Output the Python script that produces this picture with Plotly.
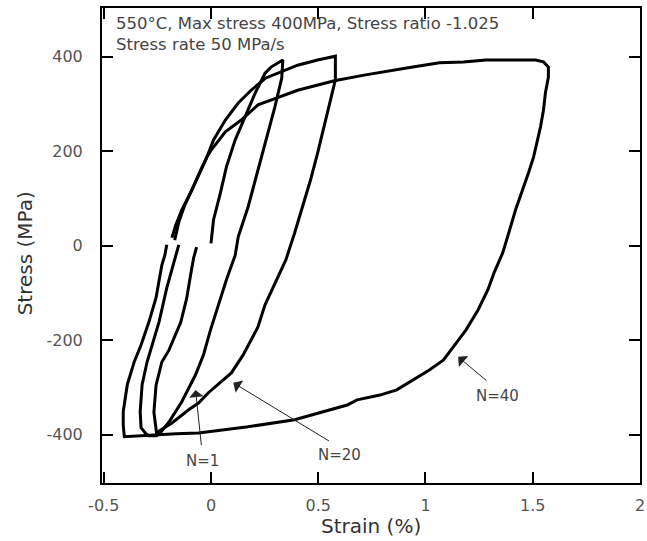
import plotly.graph_objects as go

# Hysteresis loops: strain (%) and stress (MPa) for three cycles
n1_strain = [0.0, 0.012, 0.044, 0.072, 0.113, 0.159, 0.206, 0.252, 0.280, 0.335,
             0.330, 0.298, 0.266, 0.233, 0.206, 0.173, 0.127, 0.113, 0.072, 0.035,
             -0.002, -0.035, -0.072, -0.136, -0.196, -0.233, -0.252,
             -0.266, -0.256, -0.229, -0.196, -0.141, -0.113, -0.095, -0.081, -0.067]
n1_stress = [5, 55, 112, 167, 224, 272, 323, 365, 378, 393,
             355, 294, 239, 188, 139, 82, 19, -20, -72, -125,
             -178, -231, -273, -330, -373, -394, -402,
             -352, -295, -246, -221, -162, -111, -62, -26, -3]

n20_strain = [-0.169, -0.150, -0.122, -0.090, -0.058, -0.025, 0.012, 0.067, 0.127, 0.187,
              0.256, 0.326, 0.404, 0.497, 0.580,
              0.580, 0.557, 0.529, 0.497, 0.464, 0.427, 0.390, 0.349, 0.252, 0.219,
              0.173, 0.150, 0.095, -0.012, -0.058, -0.104, -0.182, -0.242, -0.256,
              -0.289, -0.303, -0.326, -0.330, -0.321, -0.298, -0.275, -0.242, -0.206,
              -0.164, -0.150]
n20_stress = [12, 50, 86, 118, 150, 181, 224, 266, 302, 329,
              355, 368, 382, 393, 401,
              351, 308, 251, 196, 139, 82, 27, -30, -125, -172,
              -210, -231, -269, -311, -333, -347, -375, -392, -402,
              -402, -398, -385, -351, -294, -246, -210, -161, -89,
              -20, 2]

n40_strain = [-0.182, -0.164, -0.136, -0.095, -0.048, -0.021, 0.002, 0.067, 0.141, 0.219,
              0.279, 0.404, 0.575, 0.714, 0.912, 1.065, 1.176, 1.282, 1.513, 1.550, 1.573,
              1.573, 1.559, 1.550, 1.536, 1.504, 1.480, 1.453, 1.420, 1.388, 1.360,
              1.319, 1.291, 1.245, 1.189, 1.143, 1.083, 1.018, 0.945, 0.866, 0.788,
              0.681, 0.635, 0.557, 0.390, 0.173, -0.058, -0.164, -0.229, -0.303, -0.404,
              -0.409, -0.409, -0.390, -0.358, -0.326, -0.289, -0.256, -0.229, -0.215, -0.206]
n40_stress = [17, 44, 76, 112, 160, 186, 203, 241, 266, 298,
              308, 329, 349, 361, 376, 387, 389, 393, 393, 389, 378,
              357, 323, 287, 251, 188, 154, 118, 76, 27, -15,
              -58, -93, -136, -178, -206, -242, -263, -284, -305, -316,
              -326, -337, -347, -368, -383, -396, -398, -400, -402, -404,
              -379, -351, -294, -246, -210, -161, -110, -41, -20, 2]

x_ticks = [-0.5, 0, 0.5, 1, 1.5, 2]
x_tick_text = ["-0.5", "0", "0.5", "1", "1.5", "2"]
y_ticks = [-400, -200, 0, 200, 400]
y_tick_text = ["-400", "-200", "0", "200", "400"]

# Cycle labels: text position, arrow head, arrow tail (strain, stress)
cycle_labels = ["N=1", "N=20", "N=40"]
label_pos = [(-0.039, -455), (0.598, -442), (1.337, -318)]
arrow_head = [(-0.072, -305), (0.104, -290), (1.152, -235)]
arrow_tail = [(-0.044, -425), (0.557, -415), (1.291, -288)]

test_conditions = "550°C, Max stress 400MPa, Stress ratio -1.025<br>Stress rate 50 MPa/s"

FONT = "DejaVu Sans, Arial, sans-serif"
TEXT_GREY = "#454545"

fig = go.Figure()
for sx, sy, name in [(n1_strain, n1_stress, "N=1"),
                     (n20_strain, n20_stress, "N=20"),
                     (n40_strain, n40_stress, "N=40")]:
    fig.add_trace(go.Scatter(x=sx, y=sy, mode="lines", name=name,
                             line=dict(color="black", width=3),
                             showlegend=False))

annotations = []
for txt, (lx, ly), (hx, hy), (tx, ty) in zip(cycle_labels, label_pos, arrow_head, arrow_tail):
    annotations.append(dict(x=lx, y=ly, xref="x", yref="y", text=txt, showarrow=False,
                            font=dict(family=FONT, size=15, color=TEXT_GREY)))
    annotations.append(dict(x=hx, y=hy, xref="x", yref="y", ax=tx, ay=ty,
                            axref="x", ayref="y", text="", showarrow=True,
                            arrowhead=1, arrowsize=2.4, arrowwidth=1,
                            arrowcolor="#222"))

annotations += [
    dict(x=0.023, y=0.945, xref="paper", yref="paper", xanchor="left", yanchor="middle",
         align="left", text=test_conditions, showarrow=False,
         font=dict(family=FONT, size=16.5, color=TEXT_GREY)),
    dict(x=0.5, y=-0.0905, xref="paper", yref="paper", xanchor="center", yanchor="middle",
         text="Strain (%)", showarrow=False,
         font=dict(family=FONT, size=20, color="#333")),
    dict(x=-0.1427, y=0.484, xref="paper", yref="paper", xanchor="center", yanchor="middle",
         text="Stress (MPa)", textangle=-90, showarrow=False,
         font=dict(family=FONT, size=20, color="#333")),
]

axis_common = dict(showline=True, linecolor="black", linewidth=2, mirror="ticks",
                   ticks="inside", ticklen=11, tickwidth=2, tickcolor="black",
                   showgrid=False, zeroline=False,
                   tickfont=dict(family=FONT, size=16, color="#555"))

fig.update_layout(
    width=647, height=541,
    margin=dict(l=102, r=2, t=8, b=58),
    paper_bgcolor="white", plot_bgcolor="white",
    xaxis=dict(range=[-0.508, 2.0], tickvals=x_ticks, ticktext=x_tick_text,
               ticklabelstandoff=7, ticklabeloverflow="allow", **axis_common),
    yaxis=dict(range=[-502, 503], tickvals=y_ticks, ticktext=y_tick_text,
               ticklabelstandoff=14, **axis_common),
    annotations=annotations,
)

fig.write_html("out.html")
